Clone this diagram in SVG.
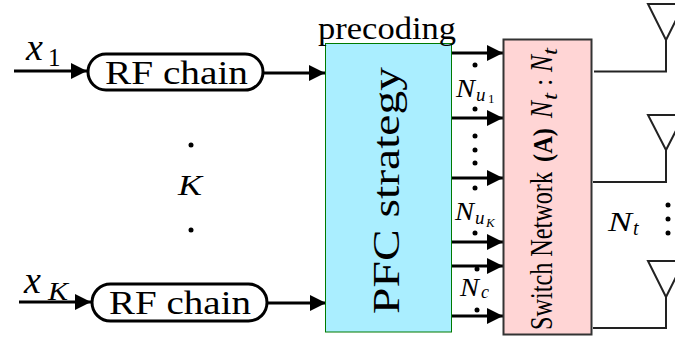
<svg xmlns="http://www.w3.org/2000/svg" width="675" height="340" viewBox="0 0 675 340">
<style>
text{font-family:"Liberation Serif",serif;fill:#000}
.it{font-style:italic}
.chain{fill:#fff;stroke:#000;stroke-width:3}
.w{fill:none;stroke:#000;stroke-width:3}
.ant{fill:none;stroke:#222;stroke-width:2}
.d{fill:#000}
</style>
<defs><marker id="a" markerUnits="userSpaceOnUse" markerWidth="17" markerHeight="16" refX="16" refY="8" orient="auto"><path d="M0 0L16 8L0 16Z" fill="#000"/></marker></defs>
<rect width="675" height="340" fill="#fff"/>
<g id="connectors">
<path class="w" marker-end="url(#a)" d="M14 71H87"/>
<path class="w" marker-end="url(#a)" d="M264 73H325"/>
<path class="w" marker-end="url(#a)" d="M19 302H91"/>
<path class="w" marker-end="url(#a)" d="M268 303H326"/>
<path class="w" marker-end="url(#a)" d="M451 53H503"/>
<path class="w" marker-end="url(#a)" d="M451 118H503"/>
<path class="w" marker-end="url(#a)" d="M451 178H503"/>
<path class="w" marker-end="url(#a)" d="M451 242H503"/>
<path class="w" marker-end="url(#a)" d="M451 266H503"/>
<path class="w" marker-end="url(#a)" d="M451 316H503"/>
<path class="ant" d="M594 71.500H666V40"/>
<path class="ant" d="M593 182H666V150"/>
<path class="ant" d="M593 328H666V297"/>
</g>
<g id="input-1"><text class="it" x="26" y="60" font-size="38">x</text><text x="48" y="65.500" font-size="25">1</text></g>
<g id="input-k"><text class="it" x="24" y="293" font-size="38">x</text><text class="it" x="48" y="300" font-size="26" textLength="20" lengthAdjust="spacingAndGlyphs">K</text></g>
<g id="rf-1"><rect class="chain" x="88" y="54" width="175" height="36" rx="18"/><text x="105" y="83.500" font-size="34" textLength="143" lengthAdjust="spacingAndGlyphs">RF chain</text></g>
<g id="rf-k"><rect class="chain" x="92" y="284" width="175" height="37" rx="18.500"/><text x="109" y="313.500" font-size="34" textLength="142" lengthAdjust="spacingAndGlyphs">RF chain</text></g>
<g id="users"><circle class="d" cx="191" cy="145" r="2.500"/><text class="it" x="178" y="195" font-size="30" textLength="24" lengthAdjust="spacingAndGlyphs">K</text><circle class="d" cx="191" cy="230" r="2.500"/></g>
<g id="precoding">
<rect x="325.500" y="43.500" width="126" height="288.500" fill="#aaeeff" stroke="#007a00" stroke-width="1"/>
<text x="318" y="39" font-size="32" textLength="138" lengthAdjust="spacingAndGlyphs">precoding</text>
<text transform="translate(399 314) rotate(-90)" font-size="38" textLength="247" lengthAdjust="spacingAndGlyphs">PFC strategy</text></g>
<g id="streams">
<circle class="d" cx="475" cy="65" r="2.500"/><circle class="d" cx="475" cy="109" r="2.500"/>
<circle class="d" cx="475" cy="136" r="2.500"/><circle class="d" cx="475" cy="150" r="2.500"/><circle class="d" cx="475" cy="163" r="2.500"/>
<circle class="d" cx="475" cy="188" r="2.500"/><circle class="d" cx="475" cy="233" r="2.500"/>
<circle class="d" cx="477" cy="269" r="2.500"/><circle class="d" cx="477" cy="310" r="2.500"/>
<text class="it" x="456" y="97" font-size="25" textLength="19" lengthAdjust="spacingAndGlyphs">N</text><text class="it" x="476" y="101" font-size="19">u</text><text x="488" y="103" font-size="13">1</text>
<text class="it" x="455" y="220" font-size="25" textLength="19" lengthAdjust="spacingAndGlyphs">N</text><text class="it" x="475" y="224" font-size="19">u</text><text class="it" x="486" y="227" font-size="13">K</text>
<text class="it" x="460" y="296" font-size="25" textLength="19" lengthAdjust="spacingAndGlyphs">N</text><text class="it" x="481" y="298" font-size="18">c</text>
</g>
<g id="switch"><rect x="503.500" y="39.500" width="88" height="295" fill="#ffd5d5" stroke="#333" stroke-width="2"/>
<g transform="translate(551.500 330) rotate(-90)"><text x="0" y="0" font-size="31" textLength="158" lengthAdjust="spacingAndGlyphs">Switch Network</text>
<text x="168" y="0" font-size="27" font-weight="bold" textLength="34" lengthAdjust="spacingAndGlyphs">(A)</text>
<text class="it" x="212" y="0" font-size="31" textLength="17" lengthAdjust="spacingAndGlyphs">N</text><text class="it" x="230" y="5" font-size="20" textLength="7" lengthAdjust="spacingAndGlyphs">t</text><text x="244" y="0" font-size="27">:</text><text class="it" x="258" y="0" font-size="31" textLength="17" lengthAdjust="spacingAndGlyphs">N</text><text class="it" x="275" y="5" font-size="20" textLength="7" lengthAdjust="spacingAndGlyphs">t</text></g></g>
<g id="antenna-1"><path class="ant" d="M648 4H684L666 40Z"/></g>
<g id="antenna-2"><path class="ant" d="M648 115H684L666 150Z"/></g>
<g id="antenna-3"><path class="ant" d="M648 261H684L666 297Z"/></g>
<g id="nt"><text class="it" x="608" y="231" font-size="28" textLength="24" lengthAdjust="spacingAndGlyphs">N</text><text class="it" x="633" y="235" font-size="20">t</text>
<circle class="d" cx="668" cy="205" r="2.500"/><circle class="d" cx="668" cy="219" r="2.500"/><circle class="d" cx="668" cy="233" r="2.500"/></g>
</svg>
